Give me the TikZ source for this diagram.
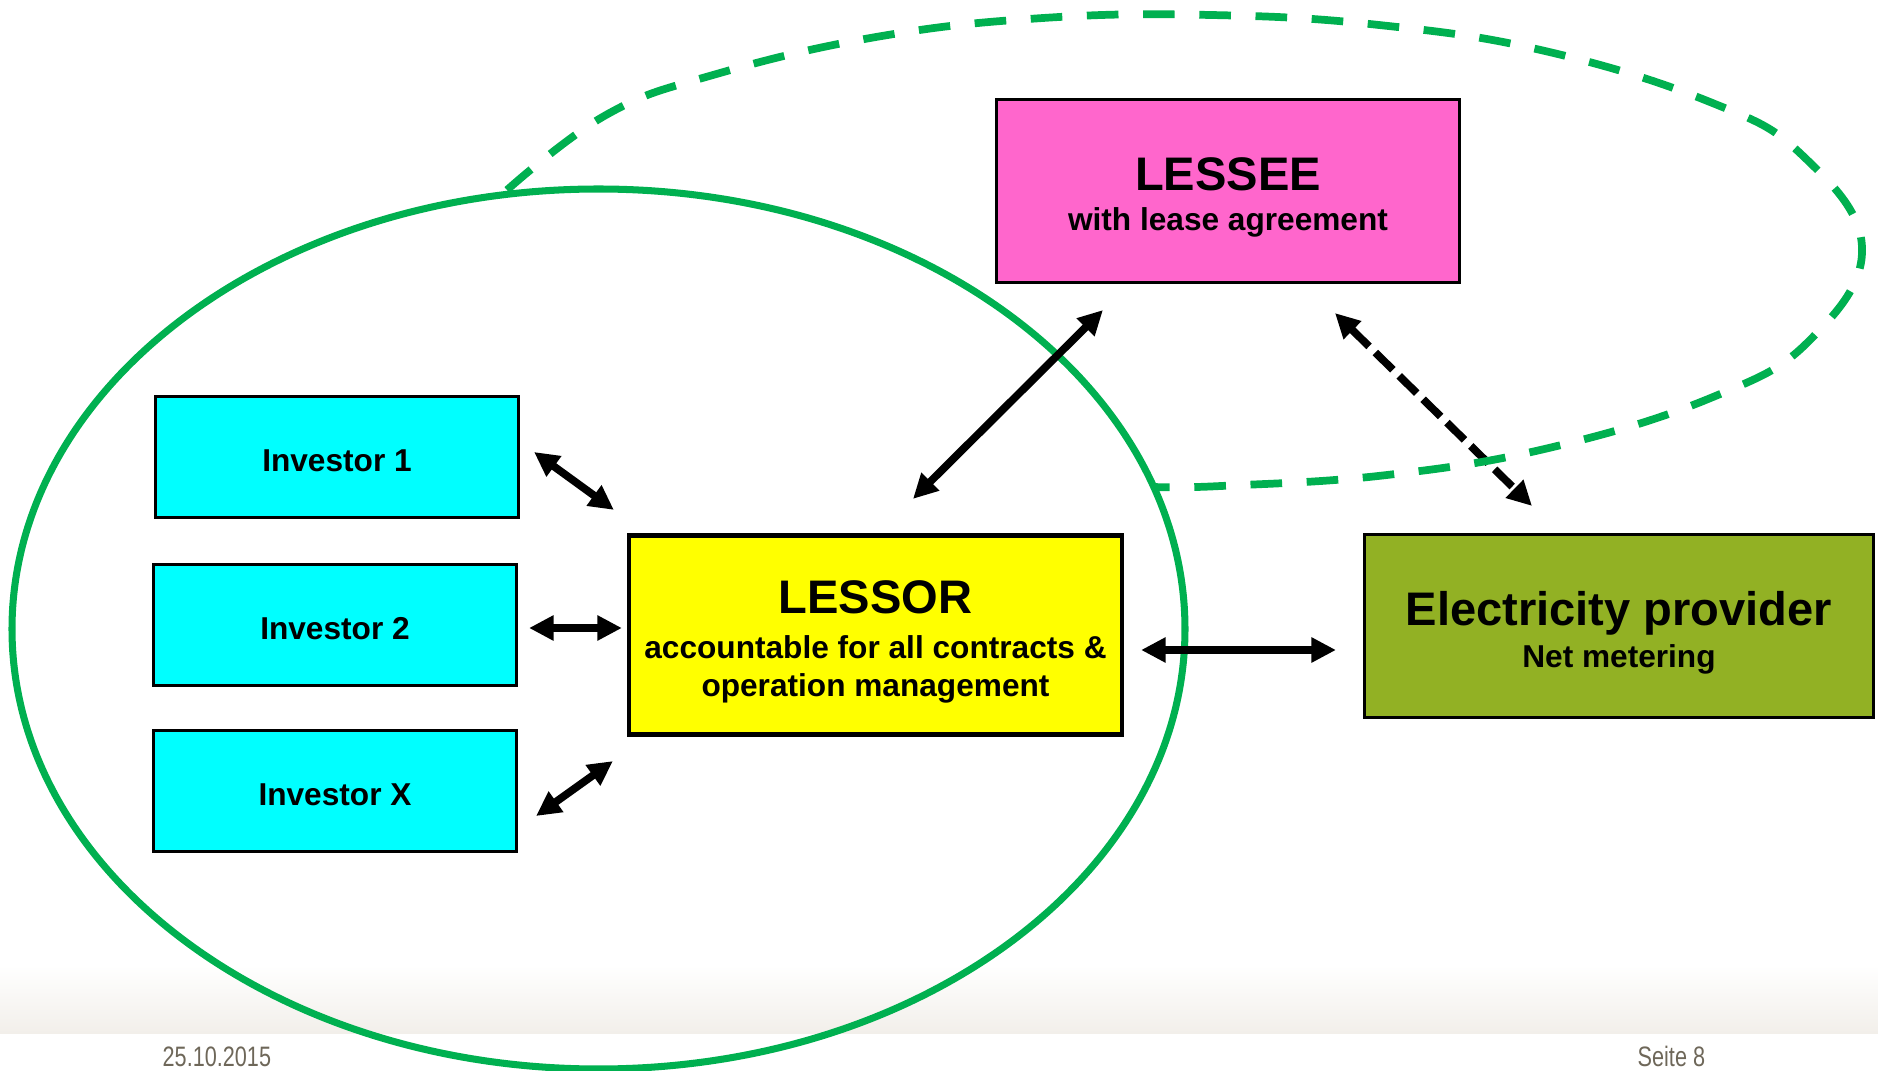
\documentclass[tikz,border=0pt]{standalone}
\usepackage{fontspec}
\setmainfont{Liberation Sans}
\newfontfamily\footfont[FakeStretch=0.77]{Liberation Sans}
\usetikzlibrary{arrows.meta,positioning,calc}

\definecolor{ringgreen}{RGB}{0,176,80}
\definecolor{lesseepink}{RGB}{255,102,204}
\definecolor{provgreen}{RGB}{146,177,36}
\definecolor{invcyan}{RGB}{0,255,255}
\definecolor{lessoryellow}{RGB}{255,255,0}
\definecolor{footgray}{RGB}{110,103,89}
\definecolor{footband}{RGB}{242,239,234}

\tikzset{
  box/.style={draw=black, line width=0.6pt, align=center,
    font=\bfseries\fontsize{9}{11}\selectfont},
  invbox/.style={box, fill=invcyan, minimum width=3.63cm, minimum height=1.21cm},
  dbl/.style={{Triangle[length=7pt,width=6.8pt]}-{Triangle[length=7pt,width=6.8pt]},
    line width=2.2pt},
}

\begin{document}
\begin{tikzpicture}
  \useasboundingbox (0,0) rectangle (18.78,10.70);

  % Footer band
  \shade[top color=white, bottom color=footband]
    (0,0.37) rectangle (18.78,1.05);
  \node[anchor=base west, inner sep=0, font=\footfont\fontsize{8}{8}\selectfont, footgray]
    (date) at (1.62,0.04) {25.10.2015};
  \node[anchor=base west, inner sep=0, font=\footfont\fontsize{8}{8}\selectfont, footgray]
    (page) at (16.37,0.04) {Seite 8};

  % Lessor circle
  \draw[ringgreen, line width=2pt]
    (5.985,4.41) ellipse [x radius=5.865, y radius=4.40];

  % Boxes
  \node[box, fill=lesseepink, minimum width=4.63cm, minimum height=1.83cm,
    font=\bfseries\fontsize{9}{11.4}\selectfont]
    (lessee) at (12.28,8.79)
    {\rule{0pt}{13pt}{\fontsize{13.4}{13.4}\selectfont LESSEE}\\with lease agreement};
  \node[invbox] (inv1) at (3.37,6.13) {\rule{0pt}{8.5pt}Investor 1};
  \node[invbox] (inv2) at (3.35,4.45) {\rule{0pt}{8.5pt}Investor 2};
  \node[invbox] (invx) at (3.35,2.79) {\rule{0pt}{8.5pt}Investor X};
  \node[box, fill=lessoryellow, line width=1.2pt, minimum width=4.93cm, minimum height=1.99cm,
    font=\bfseries\fontsize{9}{10.9}\selectfont]
    (lessor) at (8.755,4.35)
    {\rule{0pt}{13.5pt}{\fontsize{13.4}{13.4}\selectfont LESSOR}\\[1.8pt]accountable for all contracts \&\\operation management};
  \node[box, fill=provgreen, minimum width=5.09cm, minimum height=1.83cm,
    font=\bfseries\fontsize{9}{12.1}\selectfont]
    (elec) at (16.19,4.44)
    {\rule{0pt}{13.5pt}{\fontsize{13.4}{13.4}\selectfont Electricity provider}\\Net metering};

  % Arrows
  \draw[dbl] ([shift={(0.145,0.05)}]inv1.east)
    -- ([shift={(-0.13,0.235)}]lessor.north west);
  \draw[dbl] ([shift={(0.115,-0.03)}]inv2.east)
    -- ([shift={(-0.05,0.07)}]lessor.west);
  \draw[dbl] ([shift={(0.185,-0.25)}]invx.east)
    -- ([shift={(-0.14,-0.245)}]lessor.south west);
  \draw[dbl] ([shift={(0.375,0.345)}]lessor.north)
    -- ([shift={(1.075,-0.265)}]lessee.south west);
  \draw[dbl] ([shift={(0.17,-0.15)}]lessor.east)
    -- ([shift={(-0.275,-0.24)}]elec.west);
  \draw[dbl, dash pattern=on 7pt off 2.5pt] ([shift={(1.07,-0.295)}]lessee.south)
    -- ([shift={(-0.87,0.275)}]elec.north);

  % Dashed circle round lessee
  \draw[ringgreen, line width=2.2pt, dash pattern=on 9pt off 7pt]
    plot[smooth, tension=0.7] coordinates {
      (5.07,8.80) (6.06,9.55) (7.13,9.95) (8.76,10.33) (10.43,10.52)
      (12.11,10.55) (13.79,10.45) (15.45,10.19) (17.10,9.68) (18.02,9.15)
      (18.62,8.23) (18.10,7.30) (17.13,6.73) (15.53,6.23) (13.87,5.95)
      (12.21,5.84) (11.55,5.83)};

\end{tikzpicture}
\end{document}
